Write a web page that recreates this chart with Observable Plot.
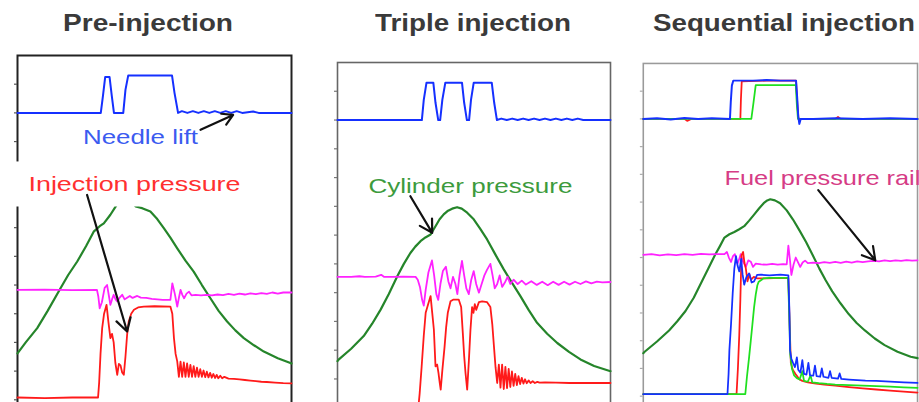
<!DOCTYPE html>
<html>
<head>
<meta charset="utf-8">
<script src="https://cdn.jsdelivr.net/npm/d3@7"></script>
<script src="https://cdn.jsdelivr.net/npm/@observablehq/plot@0.6"></script>
<style>
  html, body { margin: 0; padding: 0; background: #fff; }
  body { width: 919px; height: 402px; overflow: hidden; position: relative; font-family: "Liberation Sans", Arial, sans-serif; }
  .panel { position: absolute; }
  .panel svg { overflow: visible; }
  .title { position: absolute; white-space: nowrap; font: bold 23px/23px "Liberation Sans", Arial, sans-serif; color: #3a3a3a; transform-origin: 0 0; }
</style>
</head>
<body>
<script>
// ---------- titles ----------
const titles = ["Pre-injection", "Triple injection", "Sequential injection"];

// ---------- common axes ----------
const yTicksPre = [0, 1, 2, 3, 4, 5, 6, 7, 8, 9, 10, 11];
const yTicksTriple = [1, 2, 3, 4, 5, 6, 7, 8, 9, 10, 11];
const yTicksSeq = [0, 1, 2, 3, 4, 5, 6, 7, 8, 9, 10, 11];

// ---------- Pre-injection ----------
const preNeedle = [[0,10.0],[10,10.0],[20,10.0],[30.4,10.0],[31.2,10.6],[32.0,11.25],[33.6,11.25],[34.4,10.6],[35.2,10.0],[38.6,10.0],[39.4,10.8],[40.4,11.3],[48,11.3],[56.4,11.3],[57.3,10.7],[58.6,10.0],[60,10.06],[62,10.0],[64,10.06],[66,10.0],[68,10.06],[70,10.0],[72,10.06],[74,10.0],[76,10.06],[78,10.0],[80,10.06],[82,10.0],[86,10.05],[88,10.0],[100,10.0]];
const preCylinder = [[0,1.62],[3,2.0],[7.2,2.5],[11,3.1],[15.7,3.89],[18.5,4.35],[21.8,4.82],[25,5.35],[27.8,5.86],[30,6.05],[31.5,6.15],[33.9,6.45],[35.8,6.73],[37.5,7.0],[39.5,7.1],[41.5,6.95],[43.1,6.74],[45.5,6.68],[48.5,6.56],[51,6.3],[53.4,5.98],[55.8,5.65],[58.3,5.28],[61.3,4.85],[64.3,4.47],[67.3,4.0],[70.4,3.54],[73.4,3.1],[76.5,2.73],[79.5,2.42],[82.6,2.15],[86.3,1.9],[89.9,1.68],[95,1.45],[99.6,1.28],[100,1.27]];
const preRail = [[0,3.83],[10,3.84],[20,3.82],[29.0,3.83],[29.5,3.6],[30,3.19],[30.8,3.4],[31.8,3.9],[32.7,4.0],[33.4,3.6],[33.9,3.31],[34.5,3.5],[35.1,3.66],[35.8,3.5],[36.4,3.43],[37.2,3.55],[38.2,3.66],[39.1,3.5],[40,3.56],[41,3.62],[42,3.55],[43.7,3.62],[45,3.56],[47,3.55],[49,3.52],[51,3.5],[53,3.48],[55.8,3.48],[56.5,4.06],[57.4,3.7],[58.3,3.25],[59.0,3.6],[59.5,3.83],[60.2,3.65],[60.8,3.54],[61.7,3.7],[62.6,3.77],[63.5,3.64],[65,3.66],[67,3.64],[69,3.66],[71,3.64],[73,3.67],[75,3.65],[77,3.69],[79,3.66],[81,3.7],[83,3.67],[85,3.71],[87,3.68],[89,3.72],[91,3.69],[93,3.74],[95,3.7],[97,3.74],[100,3.74]];
const preInjection = [[0,0.08],[10,0.06],[20,0.08],[29.4,0.08],[29.8,0.6],[30.3,1.6],[30.9,2.5],[31.6,3.0],[32.5,3.31],[33.2,2.7],[33.9,2.15],[34.5,2.3],[35.1,2.0],[35.7,1.3],[36.4,0.87],[37.0,1.25],[37.6,1.2],[38.2,0.95],[38.8,0.87],[39.4,1.5],[40.0,2.26],[40.6,2.73],[41.5,3.0],[42.5,3.14],[44,3.22],[46.1,3.25],[50,3.26],[55.8,3.25],[56.5,3.0],[57.1,2.15],[57.7,1.6],[58.3,1.34],[58.9,0.8],[59.5,1.33],[60.1,0.8],[60.7,1.3],[61.3,0.8],[61.9,1.27],[62.5,0.8],[63.1,1.22],[63.7,0.8],[64.3,1.17],[64.9,0.8],[65.5,1.12],[66.1,0.8],[66.7,1.07],[67.3,0.8],[67.9,1.02],[68.5,0.79],[69.1,0.98],[69.7,0.78],[70.3,0.94],[70.9,0.77],[71.5,0.9],[72.1,0.76],[72.7,0.87],[73.3,0.75],[74.0,0.84],[74.7,0.75],[75.5,0.8],[77,0.74],[79,0.73],[81,0.71],[83,0.69],[85,0.67],[87,0.65],[89,0.63],[91,0.62],[94,0.6],[97,0.58],[100,0.57]];
const preLabels = [
  {text: "Needle lift", x: 44.9, y: 9.13, color: "#3b5bf0"},
  {text: "Injection pressure", x: 42.7, y: 7.49, color: "#ff3030"}
];
const preArrows = [
  {x1: 66.8, y1: 9.41, x2: 78.7, y2: 9.93},
  {x1: 25.4, y1: 7.14, x2: 40.0, y2: 2.38}
];
const preBoxes = [{x1: -2.6, x2: 82.5, y1: 6.72, y2: 8.29}];

// ---------- Triple injection ----------
const tripleNeedle = [[0,10.0],[10,10.0],[20,10.0],[30.9,10.0],[31.6,10.7],[32.6,11.3],[35.1,11.3],[35.9,10.6],[36.9,10.0],[37.6,10.0],[38.4,10.7],[39.5,11.3],[45.6,11.3],[46.4,10.6],[47.4,10.0],[48.2,10.0],[48.9,10.7],[49.9,11.3],[56.5,11.3],[57.4,10.6],[58.4,10.0],[60,10.05],[62,10.0],[64,10.05],[66,10.0],[68,10.05],[70,10.0],[72,10.05],[74,10.0],[76,10.05],[78,10.0],[80,10.05],[82,10.0],[84,10.05],[86,10.0],[88,10.05],[90,10.0],[100,10.0]];
const tripleCylinder = [[0,1.62],[0.5,1.68],[5,2.05],[9.6,2.49],[12.7,2.92],[15.8,3.41],[18.8,3.95],[21.9,4.57],[24.3,5.0],[26.7,5.38],[28.5,5.6],[30.4,5.79],[32.2,5.92],[34.1,6.02],[35.9,6.31],[37.4,6.55],[38.9,6.72],[40.5,6.85],[42,6.92],[43.8,6.97],[45.5,6.92],[47.5,6.78],[49.9,6.55],[52.3,6.22],[54.8,5.85],[57.8,5.33],[60.9,4.81],[64,4.33],[67.0,3.88],[70,3.4],[73.1,2.95],[76.8,2.57],[80.5,2.25],[84.8,1.94],[89,1.68],[94,1.45],[100,1.27]];
const tripleRail = [[0,4.55],[5,4.55],[8,4.57],[10,4.55],[14,4.56],[16,4.62],[17,4.55],[20,4.55],[24,4.56],[28.6,4.55],[29.4,4.45],[30.2,4.2],[31.0,3.75],[31.6,3.55],[32.3,4.1],[33.3,4.7],[34.6,5.12],[35.4,4.6],[36.2,3.95],[36.9,3.75],[37.7,4.3],[38.6,4.75],[39.7,4.9],[40.6,4.4],[41.4,4.15],[42.3,4.55],[43.2,4.3],[43.9,3.95],[44.7,4.6],[45.6,5.1],[46.4,4.6],[47.2,4.15],[48.1,3.95],[49.0,4.45],[49.9,4.75],[50.8,4.3],[51.8,4.0],[52.8,4.3],[53.8,4.6],[54.8,4.8],[56.0,5.0],[56.8,4.6],[57.6,4.15],[58.5,4.3],[59.4,4.6],[60.3,4.2],[61.3,4.35],[62.3,4.55],[63.3,4.3],[64.5,4.45],[66,4.3],[67.5,4.42],[69,4.28],[71,4.4],[73,4.27],[75,4.38],[77,4.26],[79,4.38],[81,4.27],[83,4.38],[85,4.28],[87,4.38],[89,4.3],[91,4.39],[93,4.32],[95,4.38],[97,4.36],[100,4.37]];
const tripleInjection = [[0,0],[20,0],[29.6,0],[30.1,0.5],[30.8,1.4],[31.6,2.5],[32.3,3.3],[33.2,3.6],[34.1,3.88],[34.7,3.3],[35.3,2.72],[35.9,1.44],[36.5,1.5],[37.0,1.2],[37.4,0.9],[37.8,0.63],[38.4,1.3],[39.2,2.1],[39.8,2.8],[40.4,3.3],[41.4,3.7],[42.5,3.76],[44.4,3.76],[45.3,3.5],[45.9,2.6],[46.4,1.8],[46.9,1.2],[47.5,0.63],[48.1,1.6],[48.7,2.7],[49.3,3.5],[49.8,3.3],[50.3,3.6],[50.8,3.4],[51.8,3.67],[53,3.7],[54.8,3.67],[56.0,3.5],[56.7,2.9],[57.3,2.14],[57.9,1.4],[58.5,0.86],[59.1,1.5],[59.7,0.7],[60.3,1.5],[60.9,0.65],[61.5,1.42],[62.1,0.68],[62.7,1.35],[63.3,0.72],[63.9,1.26],[64.5,0.76],[65.1,1.18],[65.7,0.79],[66.3,1.1],[66.9,0.82],[67.5,1.04],[68.1,0.84],[68.7,0.99],[69.3,0.85],[70,0.95],[70.7,0.86],[71.5,0.92],[72.3,0.86],[73.2,0.9],[74,0.87],[76,0.88],[80,0.87],[85,0.86],[90,0.86],[95,0.86],[100,0.86]];
const tripleLabels = [
  {text: "Cylinder pressure", x: 48.7, y: 7.7, color: "#3d9b3d"}
];
const tripleArrows = [{x1: 26.7, y1: 7.35, x2: 34.7, y2: 6.08}];

// ---------- Sequential injection ----------
const seqNeedleBlue = [[0,10.0],[5,10.02],[10,9.98],[15,10.03],[20,10.0],[25,10.02],[31.6,10.0],[31.9,10.6],[32.3,11.2],[32.8,11.38],[40,11.38],[45,11.4],[50,11.38],[55.7,11.38],[56.1,10.8],[56.5,10.1],[56.9,9.82],[57.4,10.0],[62,10.0],[70,10.02],[80,10.0],[90,10.02],[100,10.0]];
const seqNeedleRed = [[0,10.0],[15,10.0],[16,9.93],[17.5,10.0],[35.4,10.0],[35.6,10.7],[35.9,11.35],[45,11.38],[55.7,11.38],[56.2,10.5],[56.6,10.0],[70,10.0],[71,10.07],[72,10.0],[100,10.0]];
const seqNeedleGreen = [[0,10.0],[39.4,10.0],[40.2,10.6],[41.0,11.22],[50,11.22],[55.6,11.22],[56.0,10.5],[56.4,10.0],[100,10.0]];
const seqCylinder = [[0,1.55],[0.5,1.6],[5,1.97],[9.4,2.37],[12.4,2.7],[15.4,3.07],[18.4,3.55],[21.3,4.13],[23.8,4.62],[26.1,5.08],[28,5.42],[29.6,5.72],[31.4,5.84],[33.2,5.92],[35,6.02],[36.8,6.13],[38.6,6.33],[40.4,6.55],[42.2,6.77],[43.9,6.96],[45.2,7.06],[46.3,7.1],[48,7.06],[49.9,6.96],[52.3,6.7],[54.6,6.37],[57,5.97],[59.4,5.55],[61.8,5.08],[64.2,4.6],[66.5,4.18],[68.9,3.78],[71.9,3.35],[74.9,2.96],[77.8,2.64],[80.8,2.37],[84.4,2.08],[88.0,1.84],[92.7,1.6],[97.5,1.42],[100,1.37]];
const seqRail = [[0,5.1],[3,5.12],[6,5.08],[9,5.11],[12,5.09],[15,5.12],[18,5.1],[21,5.13],[24,5.11],[27,5.12],[29.6,5.12],[30.5,5.2],[31.2,5.0],[32.0,4.84],[32.7,5.05],[33.4,5.12],[34.3,4.77],[35.0,4.95],[35.5,5.12],[36.4,4.85],[37.4,4.66],[38.3,4.9],[39.2,4.85],[40.0,4.66],[41,4.78],[43,4.75],[45,4.74],[47,4.77],[49,4.74],[51,4.76],[52.3,4.75],[52.9,5.43],[53.5,4.9],[54.0,4.37],[54.8,4.75],[55.6,5.0],[56.3,4.85],[57.2,4.66],[58.1,4.82],[59,4.89],[60,4.8],[62,4.82],[64,4.8],[66,4.83],[68,4.81],[70,4.84],[72,4.81],[74,4.85],[76,4.82],[78,4.86],[80,4.83],[82,4.86],[84,4.88],[86,4.86],[88,4.9],[90,4.87],[92,4.9],[94,4.88],[96,4.91],[98,4.89],[100,4.9]];
const seqInjBlue = [[0,0.07],[10,0.07],[20,0.07],[30.7,0.07],[31.1,0.8],[31.4,1.66],[32.0,2.6],[32.6,3.7],[33.2,4.6],[33.8,5.05],[34.4,4.7],[35.0,4.5],[35.7,4.95],[36.2,4.4],[36.8,4.02],[37.6,4.3],[38.6,4.43],[39.5,4.1],[40.4,4.14],[41.5,4.37],[43,4.38],[46,4.36],[50,4.38],[52.9,4.36],[53.3,3.0],[53.5,1.66],[54.0,1.35],[54.6,1.2],[55.3,1.05],[56.0,1.4],[56.5,0.95],[57.3,0.85],[58.0,1.3],[58.6,0.8],[59.5,0.78],[60.2,1.2],[60.8,0.75],[62,0.74],[62.6,1.1],[63.2,0.72],[64.5,0.7],[65.1,1.0],[65.7,0.7],[67.5,0.66],[68.1,0.9],[68.7,0.66],[71,0.63],[71.6,0.82],[72.2,0.62],[75,0.6],[78,0.58],[81,0.56],[85,0.55],[90,0.52],[95,0.5],[100,0.48]];
const seqInjRed = [[0,0.07],[20,0.07],[34.0,0.07],[34.5,1.0],[35.0,2.2],[35.4,3.5],[35.8,5.08],[36.4,5.2],[36.9,4.8],[37.4,4.6],[38.0,4.14],[38.7,4.4],[39.3,4.2],[40.3,4.3],[41.5,4.25],[45,4.25],[50,4.27],[52.9,4.26],[53.4,2.5],[53.8,1.2],[54.5,0.95],[55.5,0.8],[57.0,0.6],[58,0.55],[60,0.5],[63,0.45],[66,0.42],[70,0.38],[75,0.33],[80,0.28],[85,0.24],[90,0.2],[95,0.16],[100,0.13]];
const seqInjGreen = [[0,0.07],[37.2,0.07],[37.8,0.7],[38.6,1.42],[39.2,2.0],[39.8,2.6],[40.4,3.2],[41.0,3.66],[41.6,4.0],[42.1,4.13],[43.9,4.25],[46,4.27],[50,4.27],[52.8,4.27],[53.2,3.0],[53.6,1.5],[54.2,1.0],[55,0.75],[56,0.65],[57,0.6],[58,0.9],[58.6,0.55],[60,0.52],[61,0.75],[61.6,0.5],[64,0.47],[67,0.44],[70,0.42],[75,0.4],[80,0.38],[85,0.36],[90,0.34],[95,0.32],[100,0.3]];
const seqLabels = [
  {text: "Fuel pressure rail", x: 29.6, y: 7.84, color: "#d63c86"}
];
const seqArrows = [{x1: 63.8, y1: 7.43, x2: 84.6, y2: 4.9}];

// ---------- colours ----------
const BLUE = "#1530ff", RED = "#ff1a1a", DKGREEN = "#25852a", MAGENTA = "#ff22ff", LTGREEN = "#1fe01f";

// text stretch (reference is horizontally stretched)
const textLengths = {"Needle lift": 115, "Injection pressure": 212, "Cylinder pressure": 204, "Fuel pressure rail": 200};

const panels = [
  {left: 7, top: 53, frameW: 274, frameH: 373, marginLeft: 10, frame: "#222", frameWidth: 2, tick: "#555", ticks: yTicksPre,
   series: [[preCylinder, DKGREEN, 2.2], [preRail, MAGENTA, 1.8], [preInjection, RED, 1.8], [preNeedle, BLUE, 2]],
   boxes: preBoxes, arrows: preArrows, labels: preLabels, anchor: "middle"},
  {left: 327, top: 60, frameW: 273, frameH: 374, marginLeft: 10, frame: "#666", frameWidth: 1.6, tick: "#777", ticks: yTicksTriple,
   series: [[tripleCylinder, DKGREEN, 2.2], [tripleRail, MAGENTA, 1.8], [tripleInjection, RED, 1.8], [tripleNeedle, BLUE, 2]],
   boxes: [], arrows: tripleArrows, labels: tripleLabels, anchor: "middle"},
  {left: 633, top: 61, frameW: 280, frameH: 368, marginLeft: 10, frame: "#9a9a9a", frameWidth: 1.6, tick: "#aaa", ticks: yTicksSeq,
   series: [[seqCylinder, DKGREEN, 2.2], [seqRail, MAGENTA, 1.8], [seqInjRed, RED, 1.8], [seqInjGreen, LTGREEN, 1.8], [seqInjBlue, BLUE, 1.8],
            [seqNeedleRed, RED, 1.8], [seqNeedleGreen, LTGREEN, 1.8], [seqNeedleBlue, BLUE, 2]],
   boxes: [], arrows: seqArrows, labels: seqLabels, anchor: "start"}
];

panels.forEach(p => {
  const marks = [
    Plot.frame({stroke: p.frame, strokeWidth: p.frameWidth}),
    Plot.axisY(p.ticks, {tickSize: 3, tickFormat: () => "", stroke: p.tick, label: null, strokeWidth: 1.2})
  ];
  p.series.forEach(([data, color, w]) => {
    marks.push(Plot.line(data, {x: d => d[0], y: d => d[1], stroke: color, strokeWidth: w, strokeLinejoin: "round"}));
  });
  if (p.boxes.length) marks.push(Plot.rect(p.boxes, {x1: "x1", x2: "x2", y1: "y1", y2: "y2", fill: "white"}));
  marks.push(Plot.arrow(p.arrows, {x1: "x1", y1: "y1", x2: "x2", y2: "y2", stroke: "#111", strokeWidth: 2.2, headLength: 10}));
  marks.push(Plot.text(p.labels, {x: "x", y: "y", text: "text", fill: d => d.color, fontSize: 20, textAnchor: p.anchor}));
  const svg = Plot.plot({
    width: p.frameW + p.marginLeft + 2,
    height: p.frameH + 2,
    marginLeft: p.marginLeft, marginRight: 2, marginTop: 2, marginBottom: 0,
    style: {fontFamily: "Liberation Sans, Arial, sans-serif", background: "transparent", overflow: "visible"},
    x: {domain: [0, 100], axis: null},
    y: {domain: [-1, 12]},
    marks
  });
  d3.select(svg).selectAll("text").each(function() {
    const t = this.textContent;
    if (textLengths[t]) {
      this.setAttribute("textLength", textLengths[t]);
      this.setAttribute("lengthAdjust", "spacingAndGlyphs");
    }
  });
  const div = document.createElement("div");
  div.className = "panel";
  div.style.left = p.left + "px";
  div.style.top = p.top + "px";
  div.appendChild(svg);
  document.body.appendChild(div);
});

// titles (HTML, stretched to the reference widths)
const titleBoxes = [{left: 63, width: 170}, {left: 375, width: 196}, {left: 653, width: 262}];
titles.forEach((t, i) => {
  const el = document.createElement("div");
  el.className = "title";
  el.textContent = t;
  el.style.left = titleBoxes[i].left + "px";
  el.style.top = "12px";
  document.body.appendChild(el);
  const w = el.getBoundingClientRect().width;
  el.style.transform = `scaleX(${titleBoxes[i].width / w})`;
});
</script>
</body>
</html>
